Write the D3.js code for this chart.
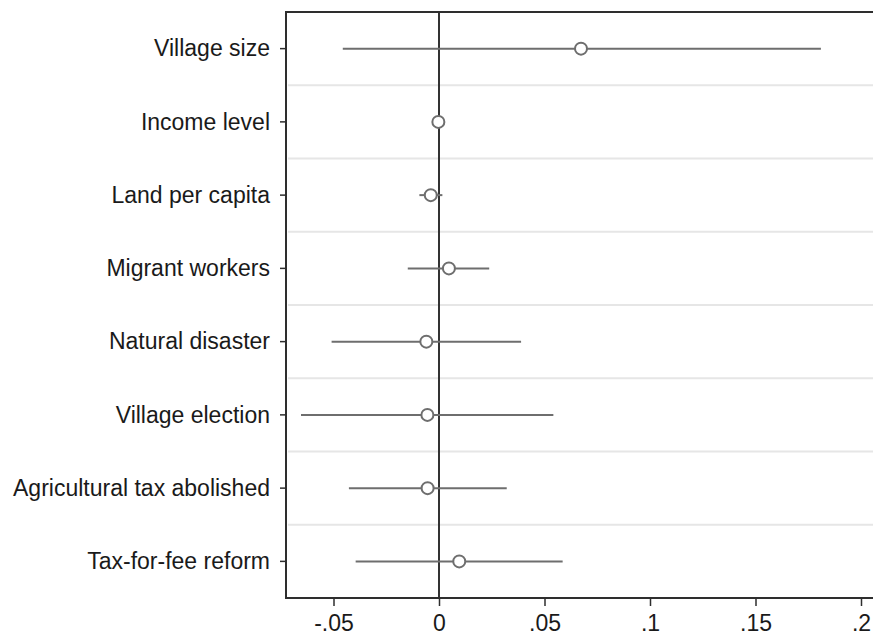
<!DOCTYPE html>
<html>
<head>
<meta charset="utf-8">
<script src="https://cdn.jsdelivr.net/npm/d3@7"></script>
<style>
  html, body { margin: 0; padding: 0; background: #fff; }
  svg { display: block; }
  text { font-family: "Liberation Sans", Arial, sans-serif; fill: #1a1a1a; }
</style>
</head>
<body>
<script>
// Coefficient estimates with confidence intervals
const variables = [
  "Village size", "Income level", "Land per capita", "Migrant workers",
  "Natural disaster", "Village election", "Agricultural tax abolished", "Tax-for-fee reform"
];
const estimates = [0.0673, -0.0003, -0.0039, 0.0047, -0.0060, -0.0055, -0.0054, 0.0096];
const ciLower   = [-0.0456, -0.0005, -0.0093, -0.0148, -0.0509, -0.0654, -0.0427, -0.0395];
const ciUpper   = [0.1810, -0.0001, 0.0016, 0.0238, 0.0389, 0.0542, 0.0321, 0.0586];
const xTicks = [-0.05, 0, 0.05, 0.1, 0.15, 0.2];
const xTickLabels = ["-.05", "0", ".05", ".1", ".15", ".2"];

const W = 873, H = 636;
const plotLeft = 286, plotTop = 12, plotBottom = 598, plotRight = 880;

const svg = d3.select("body").append("svg").attr("width", W).attr("height", H);

const x = d3.scaleLinear().domain([-0.05, 0.2]).range([333.5, 861]);
const y = d3.scaleBand().domain(variables).range([plotTop, plotBottom]).padding(0);

// Separators between rows
const bounds = variables.slice(1).map(v => y(v));
svg.append("g").selectAll("line").data(bounds).join("line")
  .attr("x1", plotLeft + 2).attr("x2", plotRight)
  .attr("y1", d => d).attr("y2", d => d)
  .attr("stroke", "#e6e6e6").attr("stroke-width", 2);

// Reference line at zero
svg.append("line")
  .attr("x1", x(0)).attr("x2", x(0)).attr("y1", plotTop).attr("y2", plotBottom)
  .attr("stroke", "#333").attr("stroke-width", 2);

// Frame: top edge
svg.append("line").attr("x1", plotLeft).attr("x2", plotRight)
  .attr("y1", plotTop).attr("y2", plotTop)
  .attr("stroke", "#2e2e2e").attr("stroke-width", 2);

// Y axis
const yAxis = svg.append("g").attr("transform", `translate(${plotLeft},0)`)
  .call(d3.axisLeft(y).tickSize(6).tickPadding(10).tickSizeOuter(0));
yAxis.select(".domain").attr("stroke", "#2e2e2e").attr("stroke-width", 2)
  .attr("d", `M0,${plotTop - 1}V${plotBottom + 1}`);
yAxis.selectAll(".tick line").attr("stroke", "#2e2e2e").attr("stroke-width", 1.5);
yAxis.selectAll(".tick text").style("font-size", "23px").attr("fill", "#1a1a1a")
  .attr("dy", "0.34em");

// X axis
const xAxis = svg.append("g").attr("transform", `translate(0,${plotBottom})`)
  .call(d3.axisBottom(x).tickValues(xTicks)
    .tickFormat((d, i) => xTickLabels[i]).tickSize(8).tickPadding(9).tickSizeOuter(0));
xAxis.select(".domain").attr("stroke", "#2e2e2e").attr("stroke-width", 2)
  .attr("d", `M${plotLeft - 1},0H${plotRight}`);
xAxis.selectAll(".tick line").attr("stroke", "#2e2e2e").attr("stroke-width", 1.5);
xAxis.selectAll(".tick text").style("font-size", "23px").attr("fill", "#1a1a1a");

// Confidence intervals
const rows = variables.map((v, i) => ({ v, est: estimates[i], lo: ciLower[i], hi: ciUpper[i] }));
const cy = d => y(d.v) + y.bandwidth() / 2;

svg.append("g").selectAll("line").data(rows).join("line")
  .attr("x1", d => x(d.lo)).attr("x2", d => x(d.hi))
  .attr("y1", cy).attr("y2", cy)
  .attr("stroke", "#6e6e6e").attr("stroke-width", 2);

// Point estimates
svg.append("g").selectAll("circle").data(rows).join("circle")
  .attr("cx", d => x(d.est)).attr("cy", cy).attr("r", 6)
  .attr("fill", "#fff").attr("stroke", "#6e6e6e").attr("stroke-width", 2);
</script>
</body>
</html>
